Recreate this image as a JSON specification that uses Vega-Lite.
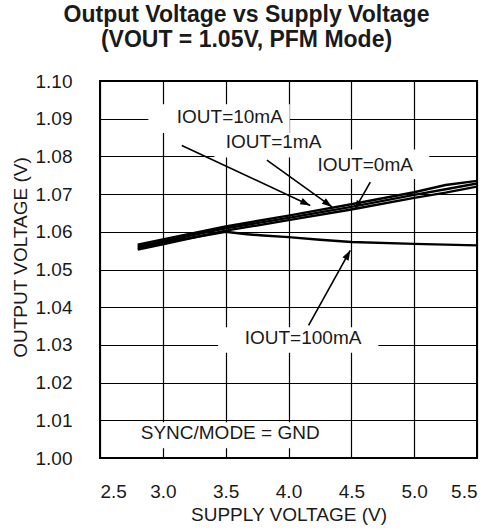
{
  "$schema": "https://vega.github.io/schema/vega-lite/v6.json",
  "width": 377,
  "height": 377,
  "autosize": "none",
  "padding": {"left": 100, "top": 81, "right": 14, "bottom": 73},
  "background": "white",
  "title": {
    "text": ["Output Voltage vs Supply Voltage", "(VOUT = 1.05V, PFM Mode)"],
    "fontSize": 23,
    "fontWeight": "bold",
    "font": "Liberation Sans",
    "color": "#1a1a1a",
    "anchor": "middle",
    "frame": "group",
    "dx": -42,
    "baseline": "alphabetic",
    "offset": 2,
    "lineHeight": 25
  },
  "config": {
    "font": "Liberation Sans",
    "view": {"stroke": "#000", "strokeWidth": 2},
    "axis": {
      "grid": true,
      "gridColor": "#000",
      "gridOpacity": 1,
      "gridWidth": 1.2,
      "domain": false,
      "ticks": false,
      "labelFont": "Liberation Sans",
      "labelFontSize": 19,
      "labelColor": "#1a1a1a",
      "titleFont": "Liberation Sans",
      "titleFontSize": 19,
      "titleFontWeight": "normal",
      "titleColor": "#1a1a1a"
    }
  },
  "datasets": {
    "curves": [
      {"series": "IOUT=10mA", "x": 2.8, "y": 1.0566},
      {"series": "IOUT=10mA", "x": 3.0, "y": 1.0580},
      {"series": "IOUT=10mA", "x": 3.5, "y": 1.0614},
      {"series": "IOUT=10mA", "x": 4.0, "y": 1.0643},
      {"series": "IOUT=10mA", "x": 4.5, "y": 1.0673},
      {"series": "IOUT=10mA", "x": 5.0, "y": 1.0705},
      {"series": "IOUT=10mA", "x": 5.25, "y": 1.0724},
      {"series": "IOUT=10mA", "x": 5.5, "y": 1.0735},
      {"series": "IOUT=1mA", "x": 2.8, "y": 1.0561},
      {"series": "IOUT=1mA", "x": 3.0, "y": 1.0575},
      {"series": "IOUT=1mA", "x": 3.5, "y": 1.0609},
      {"series": "IOUT=1mA", "x": 4.0, "y": 1.0637},
      {"series": "IOUT=1mA", "x": 4.5, "y": 1.0666},
      {"series": "IOUT=1mA", "x": 5.0, "y": 1.0698},
      {"series": "IOUT=1mA", "x": 5.25, "y": 1.0713},
      {"series": "IOUT=1mA", "x": 5.5, "y": 1.0728},
      {"series": "IOUT=0mA", "x": 2.8, "y": 1.0553},
      {"series": "IOUT=0mA", "x": 3.0, "y": 1.0567},
      {"series": "IOUT=0mA", "x": 3.5, "y": 1.0603},
      {"series": "IOUT=0mA", "x": 4.0, "y": 1.0631},
      {"series": "IOUT=0mA", "x": 4.5, "y": 1.0659},
      {"series": "IOUT=0mA", "x": 5.0, "y": 1.0690},
      {"series": "IOUT=0mA", "x": 5.25, "y": 1.0704},
      {"series": "IOUT=0mA", "x": 5.5, "y": 1.0720},
      {"series": "IOUT=100mA", "x": 2.8, "y": 1.0557},
      {"series": "IOUT=100mA", "x": 3.0, "y": 1.0571},
      {"series": "IOUT=100mA", "x": 3.5, "y": 1.0600},
      {"series": "IOUT=100mA", "x": 3.65, "y": 1.0594},
      {"series": "IOUT=100mA", "x": 3.8, "y": 1.0590},
      {"series": "IOUT=100mA", "x": 4.0, "y": 1.0586},
      {"series": "IOUT=100mA", "x": 4.25, "y": 1.0579},
      {"series": "IOUT=100mA", "x": 4.5, "y": 1.0573},
      {"series": "IOUT=100mA", "x": 5.0, "y": 1.0568},
      {"series": "IOUT=100mA", "x": 5.5, "y": 1.0564}
    ],
    "boxes": [
      {"label": "IOUT=10mA", "x": 2.885, "x2": 4.01, "y": 1.0862, "y2": 1.0938},
      {"label": "IOUT=1mA", "x": 3.41, "x2": 4.33, "y": 1.0797, "y2": 1.0862},
      {"label": "IOUT=0mA", "x": 4.23, "x2": 5.12, "y": 1.0740, "y2": 1.0818},
      {"label": "IOUT=100mA", "x": 3.44, "x2": 4.715, "y": 1.0279, "y2": 1.0347},
      {"label": "SYNC/MODE = GND", "x": 2.78, "x2": 4.29, "y": 1.0026, "y2": 1.0095}
    ],
    "labels": [
      {"text": "IOUT=10mA", "x": 3.533, "y": 1.0905},
      {"text": "IOUT=1mA", "x": 3.881, "y": 1.0838},
      {"text": "IOUT=0mA", "x": 4.61, "y": 1.0776},
      {"text": "IOUT=100mA", "x": 4.116, "y": 1.0319},
      {"text": "SYNC/MODE = GND", "x": 3.536, "y": 1.0066}
    ],
    "arrows": [
      {"label": "IOUT=10mA", "x": 4.173, "y": 1.0670, "x2": 3.151, "y2": 1.0829},
      {"label": "IOUT=1mA", "x": 4.346, "y": 1.0666, "x2": 3.828, "y2": 1.0790},
      {"label": "IOUT=0mA", "x": 4.532, "y": 1.0662, "x2": 4.651, "y2": 1.0732},
      {"label": "IOUT=100mA", "x": 4.492, "y": 1.0551, "x2": 4.160, "y2": 1.0352}
    ]
  },
  "encoding": {
    "x": {
      "field": "x",
      "type": "quantitative",
      "scale": {"domain": [2.5, 5.5], "nice": false, "zero": false},
      "axis": {
        "title": "SUPPLY VOLTAGE (V)",
        "values": [2.5, 3.0, 3.5, 4.0, 4.5, 5.0, 5.5],
        "format": ".1f",
        "labelPadding": 24,
        "titlePadding": 4
      }
    },
    "y": {
      "field": "y",
      "type": "quantitative",
      "scale": {"domain": [1.0, 1.1], "nice": false, "zero": false},
      "axis": {
        "title": "OUTPUT VOLTAGE (V)",
        "values": [1.0, 1.01, 1.02, 1.03, 1.04, 1.05, 1.06, 1.07, 1.08, 1.09, 1.1],
        "format": ".2f",
        "labelPadding": 28,
        "titleAngle": -90,
        "titleX": -80,
        "titleY": 176,
        "titleAlign": "center",
        "titleBaseline": "middle"
      }
    }
  },
  "layer": [
    {
      "data": {"name": "curves"},
      "mark": {"type": "line", "color": "#000", "strokeWidth": 2.4, "clip": true},
      "encoding": {"detail": {"field": "series"}}
    },
    {
      "data": {"name": "boxes"},
      "mark": {"type": "rect", "color": "white"},
      "encoding": {
        "x2": {"field": "x2"},
        "y2": {"field": "y2"}
      }
    },
    {
      "data": {"name": "arrows"},
      "mark": {"type": "rule", "color": "#000", "strokeWidth": 1.6},
      "encoding": {
        "x2": {"field": "x2"},
        "y2": {"field": "y2"}
      }
    },
    {
      "data": {"name": "arrows"},
      "transform": [{"filter": "datum.label === 'IOUT=10mA'"}],
      "mark": {"type": "point", "filled": true, "color": "#000", "opacity": 1, "shape": "M0,0L0.7,2L-0.7,2Z", "size": 100, "angle": 115},
      "encoding": {}
    },
    {
      "data": {"name": "arrows"},
      "transform": [{"filter": "datum.label === 'IOUT=1mA'"}],
      "mark": {"type": "point", "filled": true, "color": "#000", "opacity": 1, "shape": "M0,0L0.7,2L-0.7,2Z", "size": 100, "angle": 126},
      "encoding": {}
    },
    {
      "data": {"name": "arrows"},
      "transform": [{"filter": "datum.label === 'IOUT=0mA'"}],
      "mark": {"type": "point", "filled": true, "color": "#000", "opacity": 1, "shape": "M0,0L0.7,2L-0.7,2Z", "size": 64, "angle": 209},
      "encoding": {}
    },
    {
      "data": {"name": "arrows"},
      "transform": [{"filter": "datum.label === 'IOUT=100mA'"}],
      "mark": {"type": "point", "filled": true, "color": "#000", "opacity": 1, "shape": "M0,0L0.7,2L-0.7,2Z", "size": 100, "angle": 29},
      "encoding": {}
    },
    {
      "data": {"name": "labels"},
      "mark": {"type": "text", "fontSize": 19, "font": "Liberation Sans", "color": "#1a1a1a", "align": "center", "baseline": "middle"},
      "encoding": {"text": {"field": "text"}}
    }
  ]
}
